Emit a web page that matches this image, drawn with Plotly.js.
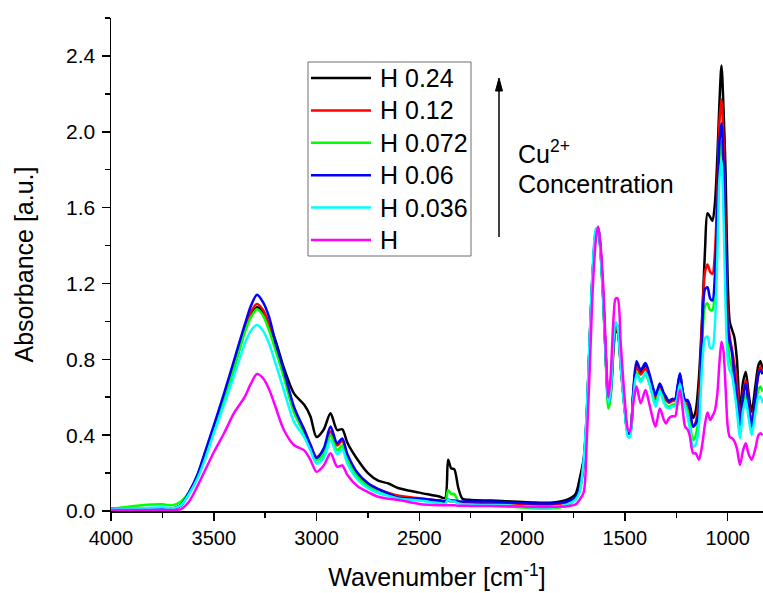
<!DOCTYPE html>
<html>
<head>
<meta charset="utf-8">
<script src="https://cdn.plot.ly/plotly-3.0.1.min.js"></script>
<style>html,body{margin:0;padding:0;background:#fff;}#chart{width:763px;height:593px;}</style>
</head>
<body>
<div id="chart"></div>
<script>
// Wavenumber grid (cm^-1)
const wavenumber = [
  4000, 3850, 3750, 3700, 3660, 3620, 3580, 3540, 3500, 3450, 3400, 3350, 3320, 3290, 3260, 3230, 3200, 3160, 3110, 3060, 3030, 3000, 2965, 2932, 2900, 2875, 2850, 2800, 2750, 2700, 2650, 2600,
  2500, 2400, 2375, 2360, 2345, 2330, 2310, 2290, 2250, 2150, 2050, 1950, 1850, 1780, 1740, 1720,
  1700, 1685, 1670, 1655, 1640, 1630, 1620, 1605, 1590, 1580, 1570, 1555, 1545, 1535, 1520, 1500, 1485, 1475, 1460, 1443,
  1423, 1400, 1380, 1360, 1350, 1330, 1310, 1300, 1285, 1270, 1255, 1245, 1232, 1220, 1207, 1195, 1185, 1168,
  1155, 1140, 1125, 1110, 1098, 1085, 1074, 1062, 1050, 1040, 1030, 1020, 1010, 1000, 990, 980, 968, 955, 940, 925, 912, 898, 883, 865, 850, 840, 830
];

const seriesNames = ["H 0.24", "H 0.12", "H 0.072", "H 0.06", "H 0.036", "H"];

const absH024 = [
  0.01, 0.01, 0.01, 0.012, 0.03, 0.095, 0.18, 0.30, 0.43, 0.59, 0.76, 0.95, 1.03, 1.075, 1.05, 0.98, 0.90, 0.758, 0.62, 0.56, 0.50, 0.39, 0.43, 0.515, 0.427, 0.431, 0.36, 0.27, 0.20, 0.16, 0.145, 0.12,
  0.097, 0.075, 0.068, 0.27, 0.225, 0.22, 0.12, 0.065, 0.058, 0.055, 0.05, 0.045, 0.045, 0.06, 0.09, 0.17,
  0.28, 0.52, 0.93, 1.28, 1.47, 1.49, 1.40, 1.12, 0.74, 0.57, 0.61, 0.86, 0.95, 0.94, 0.76, 0.53, 0.41, 0.41, 0.60, 0.77,
  0.73, 0.77, 0.71, 0.63, 0.60, 0.665, 0.61, 0.59, 0.58, 0.59, 0.59, 0.64, 0.72, 0.64, 0.58, 0.58, 0.56, 0.49,
  0.53, 0.70, 1.00, 1.38, 1.57, 1.55, 1.53, 1.62, 1.87, 2.15, 2.35, 2.12, 1.78, 1.22, 1.00, 0.96, 0.92, 0.80, 0.54, 0.68, 0.735, 0.62, 0.524, 0.66, 0.77, 0.79, 0.74
];
const absH012 = [
  0.01, 0.01, 0.01, 0.012, 0.03, 0.10, 0.185, 0.31, 0.44, 0.60, 0.77, 0.96, 1.05, 1.092, 1.06, 0.98, 0.87, 0.73, 0.54, 0.43, 0.35, 0.285, 0.32, 0.42, 0.345, 0.37, 0.29, 0.195, 0.145, 0.115, 0.095, 0.08,
  0.067, 0.055, 0.05, 0.055, 0.05, 0.05, 0.048, 0.045, 0.045, 0.042, 0.04, 0.035, 0.035, 0.045, 0.065, 0.11,
  0.25, 0.50, 0.92, 1.28, 1.47, 1.49, 1.40, 1.12, 0.74, 0.57, 0.61, 0.87, 0.96, 0.95, 0.77, 0.53, 0.41, 0.41, 0.60, 0.76,
  0.72, 0.75, 0.70, 0.62, 0.59, 0.65, 0.60, 0.585, 0.57, 0.58, 0.585, 0.63, 0.71, 0.63, 0.57, 0.56, 0.52, 0.445,
  0.47, 0.60, 0.98, 1.26, 1.30, 1.26, 1.25, 1.36, 1.70, 2.05, 2.17, 1.95, 1.50, 1.05, 0.92, 0.86, 0.78, 0.68, 0.48, 0.62, 0.69, 0.58, 0.47, 0.60, 0.73, 0.76, 0.73
];
const absH0072 = [
  0.01, 0.03, 0.035, 0.03, 0.05, 0.10, 0.185, 0.31, 0.43, 0.59, 0.76, 0.94, 1.02, 1.064, 1.03, 0.95, 0.85, 0.71, 0.52, 0.41, 0.33, 0.27, 0.30, 0.40, 0.32, 0.345, 0.27, 0.18, 0.13, 0.10, 0.085, 0.07,
  0.058, 0.045, 0.042, 0.11, 0.09, 0.09, 0.05, 0.035, 0.03, 0.028, 0.022, 0.015, 0.015, 0.03, 0.06, 0.11,
  0.25, 0.50, 0.92, 1.28, 1.47, 1.49, 1.39, 1.10, 0.71, 0.54, 0.59, 0.87, 0.97, 0.96, 0.77, 0.53, 0.41, 0.41, 0.59, 0.73,
  0.69, 0.72, 0.67, 0.59, 0.56, 0.64, 0.58, 0.56, 0.55, 0.56, 0.565, 0.61, 0.69, 0.61, 0.56, 0.53, 0.47, 0.374,
  0.40, 0.52, 0.85, 1.08, 1.095, 1.06, 1.06, 1.18, 1.52, 1.85, 1.95, 1.72, 1.28, 0.92, 0.80, 0.76, 0.68, 0.58, 0.41, 0.56, 0.62, 0.52, 0.43, 0.54, 0.64, 0.656, 0.63
];
const absH006 = [
  0.01, 0.01, 0.01, 0.012, 0.03, 0.10, 0.19, 0.32, 0.45, 0.62, 0.80, 0.98, 1.08, 1.14, 1.10, 1.02, 0.89, 0.744, 0.55, 0.427, 0.35, 0.28, 0.33, 0.445, 0.357, 0.383, 0.30, 0.20, 0.146, 0.115, 0.092, 0.07,
  0.065, 0.055, 0.05, 0.06, 0.055, 0.055, 0.05, 0.05, 0.05, 0.05, 0.045, 0.04, 0.04, 0.05, 0.07, 0.12,
  0.26, 0.51, 0.93, 1.29, 1.48, 1.49, 1.40, 1.12, 0.74, 0.57, 0.62, 0.89, 0.99, 0.97, 0.78, 0.54, 0.41, 0.41, 0.62, 0.79,
  0.744, 0.78, 0.72, 0.64, 0.612, 0.673, 0.62, 0.603, 0.577, 0.59, 0.59, 0.65, 0.726, 0.64, 0.585, 0.585, 0.55, 0.445,
  0.46, 0.53, 0.92, 1.17, 1.18, 1.12, 1.11, 1.24, 1.60, 1.94, 2.045, 1.82, 1.32, 0.98, 0.89, 0.84, 0.72, 0.60, 0.454, 0.60, 0.673, 0.56, 0.445, 0.60, 0.72, 0.744, 0.72
];
const absH0036 = [
  0.01, 0.015, 0.02, 0.015, 0.03, 0.09, 0.17, 0.28, 0.41, 0.56, 0.72, 0.88, 0.95, 0.981, 0.95, 0.88, 0.78, 0.64, 0.47, 0.39, 0.32, 0.25, 0.28, 0.374, 0.30, 0.325, 0.25, 0.165, 0.12, 0.095, 0.08, 0.065,
  0.055, 0.04, 0.038, 0.06, 0.05, 0.05, 0.04, 0.035, 0.032, 0.03, 0.028, 0.02, 0.02, 0.035, 0.06, 0.10,
  0.27, 0.54, 0.95, 1.31, 1.49, 1.49, 1.38, 1.10, 0.73, 0.57, 0.62, 0.91, 1.00, 0.97, 0.76, 0.52, 0.39, 0.39, 0.58, 0.72,
  0.68, 0.73, 0.67, 0.58, 0.55, 0.63, 0.57, 0.55, 0.54, 0.55, 0.555, 0.60, 0.67, 0.60, 0.55, 0.50, 0.44, 0.339,
  0.35, 0.45, 0.75, 0.91, 0.92, 0.86, 0.86, 0.98, 1.35, 1.75, 1.85, 1.55, 1.08, 0.80, 0.74, 0.72, 0.64, 0.53, 0.383, 0.53, 0.585, 0.49, 0.40, 0.52, 0.60, 0.603, 0.57
];
const absH = [
  0.005, 0.005, 0.005, 0.005, 0.01, 0.05, 0.13, 0.22, 0.31, 0.41, 0.52, 0.60, 0.67, 0.723, 0.70, 0.64, 0.55, 0.43, 0.348, 0.32, 0.27, 0.207, 0.24, 0.304, 0.234, 0.24, 0.19, 0.13, 0.10, 0.075, 0.065, 0.058,
  0.037, 0.03, 0.03, 0.03, 0.03, 0.03, 0.028, 0.028, 0.027, 0.026, 0.025, 0.022, 0.022, 0.025, 0.035, 0.06,
  0.10, 0.38, 0.78, 1.20, 1.44, 1.50, 1.42, 1.18, 0.78, 0.60, 0.70, 1.02, 1.12, 1.12, 0.88, 0.58, 0.43, 0.42, 0.56, 0.656,
  0.568, 0.638, 0.56, 0.47, 0.445, 0.54, 0.48, 0.462, 0.49, 0.50, 0.50, 0.56, 0.638, 0.55, 0.445, 0.43, 0.40, 0.304,
  0.304, 0.27, 0.34, 0.46, 0.52, 0.48, 0.50, 0.53, 0.62, 0.78, 0.893, 0.84, 0.65, 0.45, 0.39, 0.385, 0.37, 0.33, 0.243, 0.32, 0.357, 0.30, 0.27, 0.33, 0.40, 0.41, 0.40
];

const seriesValues = [absH024, absH012, absH0072, absH006, absH0036, absH];
const seriesColors = ["#000000", "#ff0000", "#00ff00", "#0000ff", "#00ffff", "#ff00ff"];

const FONT = "Liberation Sans, Arial, Helvetica, sans-serif";
const W = 763, H = 593;
const M = {l: 111, r: 0, t: 18, b: 82};
const PW = W - M.l - M.r, PH = H - M.t - M.b;
const px = x => (x - M.l) / PW;
const py = y => (M.t + PH - y) / PH;

const traces = seriesValues.map((vals, i) => ({
  type: "scatter",
  mode: "lines",
  x: wavenumber,
  y: vals,
  name: seriesNames[i],
  line: {color: seriesColors[i], width: 2.5, shape: "spline", smoothing: 0.8},
  showlegend: false,
  hoverinfo: "x+y+name"
}));

// Legend box, sample lines and concentration arrow (paper coordinates)
const shapes = [{
  type: "rect", xref: "paper", yref: "paper",
  x0: px(308), x1: px(471), y0: py(256), y1: py(62),
  line: {color: "#6e6e6e", width: 1}, fillcolor: "rgba(255,255,255,0)"
}];
const annotations = [];
seriesNames.forEach((nm, i) => {
  const yy = 78 + i * 32.4;
  shapes.push({type: "line", xref: "paper", yref: "paper",
    x0: px(311), x1: px(371), y0: py(yy), y1: py(yy),
    line: {color: seriesColors[i], width: 2.5}});
  annotations.push({xref: "paper", yref: "paper", x: px(378), y: py(yy),
    xanchor: "left", yanchor: "middle", showarrow: false, text: nm,
    font: {family: FONT, size: 25, color: "#000"}});
});
shapes.push({type: "line", xref: "paper", yref: "paper",
  x0: px(499), x1: px(499), y0: py(237), y1: py(88),
  line: {color: "#000", width: 1.5}});
shapes.push({type: "path", xref: "paper", yref: "paper",
  path: `M ${px(499)} ${py(78)} L ${px(495.5)} ${py(91)} L ${px(502.5)} ${py(91)} Z`,
  fillcolor: "#000", line: {color: "#000", width: 1}});
annotations.push({xref: "paper", yref: "paper", x: px(516), y: py(152), xanchor: "left", yanchor: "middle",
  showarrow: false, text: "Cu<sup>2+</sup>", font: {family: FONT, size: 25, color: "#000"}});
annotations.push({xref: "paper", yref: "paper", x: px(516), y: py(184), xanchor: "left", yanchor: "middle",
  showarrow: false, text: "Concentration", font: {family: FONT, size: 25, color: "#000"}});

const axisCommon = {
  showline: true, linecolor: "#000", linewidth: 1.5, mirror: false,
  ticks: "outside", ticklen: 8, tickwidth: 1.5, tickcolor: "#000",
  showgrid: false, zeroline: false
};

const layout = {
  width: W, height: H,
  margin: {l: M.l, r: M.r, t: M.t, b: M.b, pad: 0},
  paper_bgcolor: "#fff", plot_bgcolor: "#fff",
  font: {family: FONT, color: "#000"},
  showlegend: false,
  xaxis: Object.assign({}, axisCommon, {
    range: [4000, 828], dtick: 500, tick0: 0,
    tickfont: {family: FONT, size: 20, color: "#000"},
    minor: {dtick: 250, ticks: "outside", ticklen: 5, tickwidth: 1.5, tickcolor: "#000", showgrid: false},
    title: {text: "Wavenumber [cm<sup>-1</sup>]", font: {family: FONT, size: 25, color: "#000"}, standoff: 21}
  }),
  yaxis: Object.assign({}, axisCommon, {
    range: [0, 2.6], dtick: 0.4, tick0: 0, tickformat: ".1f",
    tickfont: {family: FONT, size: 21, color: "#000"},
    ticklabelstandoff: 2,
    minor: {dtick: 0.2, ticks: "outside", ticklen: 5, tickwidth: 1.5, tickcolor: "#000", showgrid: false},
    title: {text: "Absorbance [a.u.]", font: {family: FONT, size: 25, color: "#000"}, standoff: 25}
  }),
  shapes: shapes,
  annotations: annotations
};

Plotly.newPlot("chart", traces, layout, {displayModeBar: false, staticPlot: true});
</script>
</body>
</html>
